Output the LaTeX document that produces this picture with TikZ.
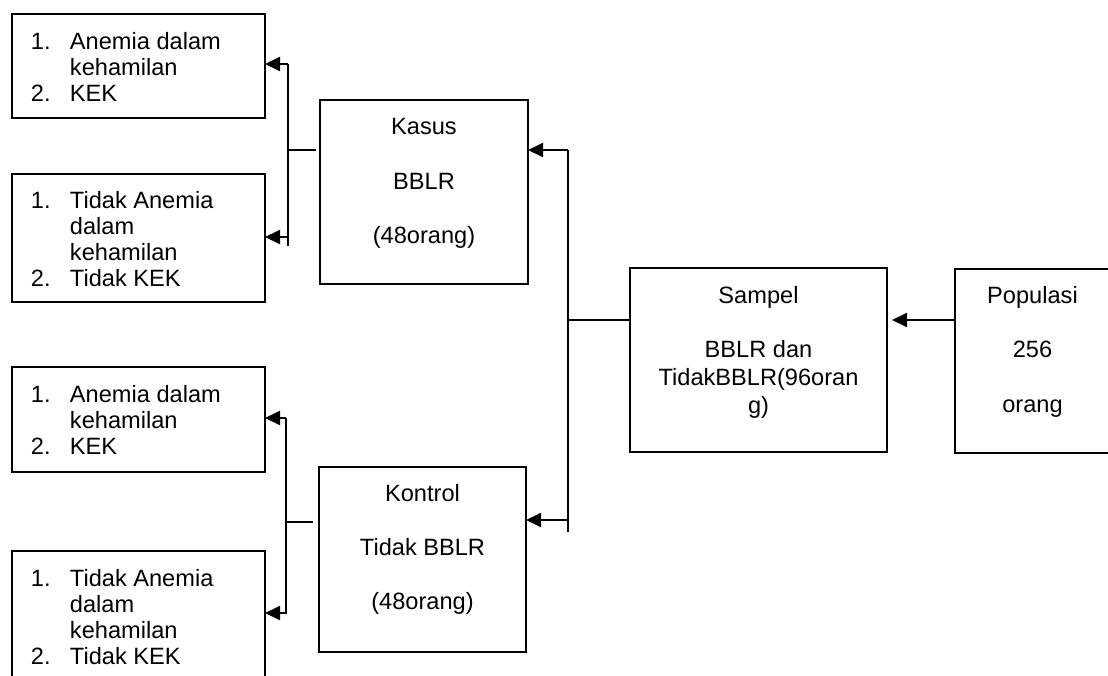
\documentclass[tikz,border=0pt]{standalone}
\usepackage{fontspec}
\setmainfont{Liberation Sans}
\usetikzlibrary{arrows.meta}
% #1 width, #2 height, #3 first baseline, #4 baselineskip, #5 content
\newcommand{\cbx}[5]{\parbox[b][#2][t]{#1}{\fontsize{23.6pt}{#4}\selectfont\centering\rule{0pt}{#3}#5\par}}
\newcommand{\lbx}[5]{\parbox[b][#2][t]{#1}{\fontsize{23.6pt}{#4}\selectfont\raggedright\rule{0pt}{#3}#5\par}}
\newcommand{\itm}[2]{\hspace*{19pt}\makebox[39pt][l]{#1}#2}
\newcommand{\cnt}[1]{\hspace*{58pt}#1}
\begin{document}
\begin{tikzpicture}[x=1pt,y=-1pt,
  boxnode/.style={draw, line width=1.9pt, inner sep=0pt, outer sep=0pt, anchor=north west},
  conn/.style={line width=1.9pt},
  arr/.style={line width=1.9pt, -{Triangle[length=15pt,width=14pt]}}]
\useasboundingbox (0,0) rectangle (1108,675);
\clip (0,0) rectangle (1108,675);
% left boxes
\node[boxnode] (a1) at (12,14) {\lbx{253pt}{104pt}{35.5pt}{26pt}{\itm{1.}{Anemia dalam}\\\cnt{kehamilan}\\\itm{2.}{KEK}}};
\node[boxnode] (a2) at (12,174) {\lbx{253pt}{128pt}{34pt}{26pt}{\itm{1.}{Tidak Anemia}\\\cnt{dalam}\\\cnt{kehamilan}\\\itm{2.}{Tidak KEK}}};
\node[boxnode] (b1) at (12,367) {\lbx{253pt}{105pt}{35pt}{26pt}{\itm{1.}{Anemia dalam}\\\cnt{kehamilan}\\\itm{2.}{KEK}}};
\node[boxnode] (b2) at (12,551) {\lbx{253pt}{140pt}{35pt}{26pt}{\itm{1.}{Tidak Anemia}\\\cnt{dalam}\\\cnt{kehamilan}\\\itm{2.}{Tidak KEK}}};
% middle boxes
\node[boxnode] (kasus) at (320,100) {\cbx{208pt}{184pt}{34pt}{27pt}{Kasus\\[28pt]BBLR\\[27pt](48orang)}};
\node[boxnode] (kontrol) at (319,467) {\cbx{207pt}{185pt}{34pt}{27pt}{Kontrol\\[27pt]Tidak BBLR\\[27pt](48orang)}};
% right boxes
\node[boxnode] (sampel) at (630,268) {\cbx{257pt}{184pt}{35pt}{28pt}{Sampel\\[26pt]BBLR dan\\TidakBBLR(96oran\\g)}};
\node[boxnode] (populasi) at (955,269) {\cbx{155pt}{184pt}{34pt}{27pt}{Populasi\\[27pt]256\\[28pt]orang}};
% junction coordinates
\coordinate (k1) at (316,150);
\coordinate (jA) at (288,150);
\coordinate (jAt) at (288,64);
\coordinate (jA2) at (288,237);
\coordinate (jAb) at (288,246);
\coordinate (k2) at (313,522);
\coordinate (jB) at (286,522);
\coordinate (jBt) at (286,418);
\coordinate (jBb) at (286,614);
\coordinate (jB2) at (286,613);
\coordinate (jR) at (568,320);
\coordinate (jRt) at (568,150);
\coordinate (jRk) at (568,520);
\coordinate (jRb) at (568,532);
% upper left bracket
\draw[conn] (k1) -- (jA);
\draw[conn] (jAt) -- (jAb);
\draw[arr] (jAt) -- (jAt -| a1.east);
\draw[arr] (jA2) -- (jA2 -| a2.east);
% lower left bracket
\draw[conn] (k2) -- (jB);
\draw[conn] (jBt) -- (jBb);
\draw[arr] (jBt) -- (jBt -| b1.east);
\draw[arr] (jB2) -- (jB2 -| b2.east);
% right bracket
\draw[conn] (jR -| sampel.west) -- (jR);
\draw[conn] (jRt) -- (jRb);
\draw[arr] (jRt) -- (jRt -| kasus.east);
\draw[arr] (jRk) -- (jRk -| kontrol.east);
% populasi to sampel
\draw[arr, shorten >=5pt] (jR -| populasi.west) -- (jR -| sampel.east);
\end{tikzpicture}
\end{document}
